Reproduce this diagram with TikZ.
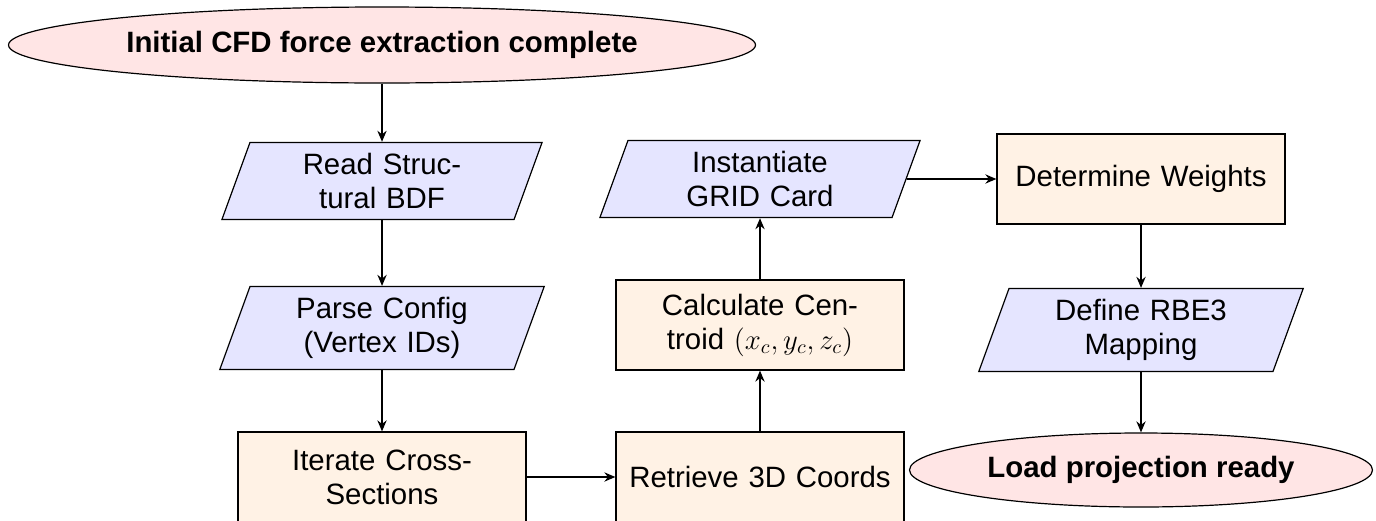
\documentclass[tikz,border=0pt]{standalone}
\usepackage{fontspec}
\setmainfont{Liberation Sans}
\usetikzlibrary{shapes.geometric,arrows.meta}
\begin{document}
\begin{tikzpicture}[x=0.5pt,y=-0.5pt,
  base/.style={draw=black, line width=0.6pt, align=center,
    font=\fontsize{14.7}{17}\selectfont},
  io/.style={base, trapezium, trapezium left angle=70, trapezium right angle=110,
    fill=blue!10, text width=124pt, inner xsep=4pt, inner ysep=5.4pt},
  proc/.style={base, rectangle, fill=orange!10, minimum width=144pt,
    minimum height=45pt, text width=136pt, inner xsep=2pt, inner ysep=4pt},
  term/.style={base, ellipse, fill=red!10, inner sep=0pt,
    font=\fontsize{14.7}{17}\selectfont\bfseries},
  flow/.style={-{Stealth[length=5.5pt,width=4.6pt]}, line width=0.9pt}
]
\useasboundingbox (0,0) rectangle (1376,520);

% first column: input and set-up
\node[term, minimum width=373.5pt, minimum height=38pt] (start) at (382,45)
  {Initial CFD force extraction complete};
\node[io] (read) at (382,181) {Read Struc-\\tural BDF};
\node[io] (parse) at (382,328) {Parse Config\\(Vertex IDs)};
\node[proc] (iter) at (382,477) {Iterate Cross-\\Sections};

% second column: geometry
\node[proc] (retr) at (760,477) {Retrieve 3D Coords};
\node[proc] (calc) at (760,325) {Calculate Cen-\\troid $(x_c, y_c, z_c)$};
\node[io] (inst) at (760,179) {Instantiate\\GRID Card};

% third column: mapping
\node[proc] (det) at (1141,179) {Determine Weights};
\node[io] (rbe) at (1141,330) {Define RBE3\\Mapping};
\node[term, minimum width=231.5pt, minimum height=37pt] (done) at (1141,470)
  {Load projection ready};

% connectors
\draw[flow] (start) -- (read);
\draw[flow] (read) -- (parse);
\draw[flow] (parse) -- (iter);
\draw[flow] (iter) -- (retr);
\draw[flow] (retr) -- (calc);
\draw[flow] (calc) -- (inst);
\draw[flow] (inst) -- (det);
\draw[flow] (det) -- (rbe);
\draw[flow] (rbe) -- (done);
\end{tikzpicture}
\end{document}
